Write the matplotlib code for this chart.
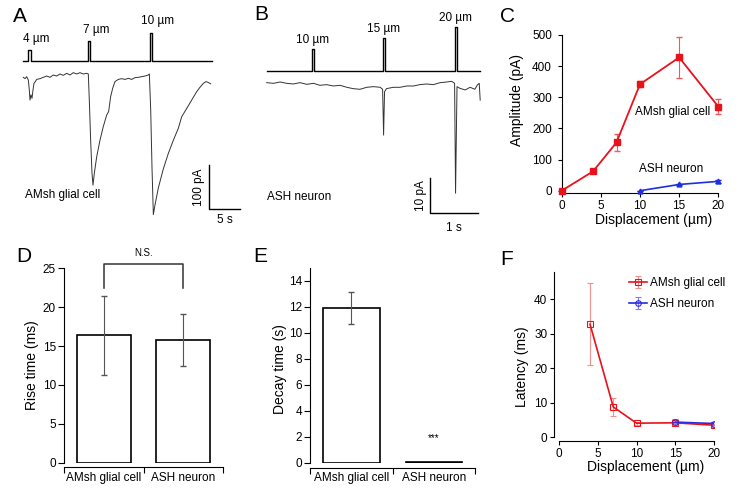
import matplotlib
matplotlib.use('Agg')
import matplotlib.pyplot as plt

plt.rcParams['font.family'] = ['Liberation Sans', 'DejaVu Sans']
plt.rcParams['axes.linewidth'] = 0.8

W, H = 747, 492

# ---------------- Panel A data (AMsh glial cell trace) ----------------
a_pulse_on = [0.82, 10.59, 20.58]      # s
a_pulse_w = [0.38, 0.33, 0.32]         # s
a_pulse_amp = [4, 7, 10]               # um
a_pulse_lbl = ['4 µm', '7 µm', '10 µm']
a_stim_end = 30.7
a_t = [0.0, 0.28, 0.55, 0.82, 0.98, 1.09, 1.25, 1.42, 1.58, 1.74, 1.96, 2.18, 2.72, 3.26,
       3.81, 4.35, 4.89, 5.43, 5.98, 6.52, 7.06, 7.61, 8.15, 8.69, 9.23, 9.78, 10.32, 10.59,
       10.75, 10.97, 11.19, 11.35, 11.57, 11.95, 12.49, 13.03, 13.58, 13.90, 14.23, 14.56,
       14.93, 15.48, 16.02, 16.56, 17.11, 17.65, 18.19, 18.73, 19.28, 19.82, 20.36, 20.53,
       20.75, 20.96, 21.18, 21.45, 22.0, 22.81, 23.62, 24.44, 25.25, 25.79, 26.61, 27.42,
       28.23, 28.77, 29.32, 29.75, 30.13, 30.51]
a_i = [-5.3, -8.3, -3.8, -11.4, -34, -57, -45, -53, -34, -19, -15, -10, -8.3, -5.3,
       -2.3, -5.3, 0, -2.3, 2.3, -0.8, 3.8, 0, 5.3, 2.3, 5.3, 2.3, 3.8, 2.3,
       -57, -148, -223, -250, -223, -186, -148, -117, -91, -83, -49, -30,
       -15, -10, -8.3, -10, -7.6, -10, -6, -5.3, -3.8, -2.3, 0, 2.3,
       -80, -210, -317, -295, -256, -213, -178, -148, -121, -95, -76, -57,
       -38, -28, -19, -15, -17, -20]

# ---------------- Panel B data (ASH neuron trace) ----------------
b_pulse_on = [0.93, 2.40, 3.89]
b_pulse_w = [0.042, 0.048, 0.055]
b_pulse_amp = [10, 15, 20]
b_pulse_lbl = ['10 µm', '15 µm', '20 µm']
b_stim_end = 4.42
b_t = [0.0, 0.14, 0.28, 0.41, 0.55, 0.69, 0.83, 0.97, 1.10, 1.24, 1.38, 1.52, 1.66, 1.79,
       1.93, 2.07, 2.21, 2.35, 2.40, 2.42, 2.44, 2.48, 2.62, 2.76, 2.90, 3.04, 3.17, 3.31,
       3.45, 3.59, 3.73, 3.83, 3.89, 3.91, 3.94, 4.0, 4.11, 4.21, 4.31, 4.36, 4.40, 4.42]
b_i = [0.19, 0, 0.38, 0, -0.19, 0.19, -0.29, 0, -0.57, -0.38, -0.76, -0.57, -1.14, -1.52,
       -1.71, -1.14, -0.95, -1.14, -1.71, -14.8, -2.4, -1.52, -1.14, -1.14, -0.76, -0.76, -0.38, -0.19,
       -0.38, 0.19, 0.38, 0.57, 0, -31.4, -0.95, -1.43, -1.9, -1.14, -1.7, -0.48, 0, -4.8]

# ---------------- Panel C data ----------------
c_x_glia = [0, 4, 7, 10, 15, 20]
c_y_glia = [0, 62, 155, 342, 428, 270]
c_e_glia = [0, 6, 26, 9, 65, 25]
c_x_ash = [10, 15, 20]
c_y_ash = [0, 20, 30]
c_e_ash = [0, 3, 4]

# ---------------- Panel D / E data ----------------
groups = ['AMsh glial cell', 'ASH neuron']
rise = [16.4, 15.8]
rise_err = [5.1, 3.3]
decay = [11.9, 0.08]
decay_err = [1.2, 0.0]

# ---------------- Panel F data ----------------
f_x_glia = [4, 7, 10, 15, 20]
f_y_glia = [32.8, 8.8, 4.1, 4.2, 3.5]
f_e_glia = [11.9, 2.7, 0.4, 0.7, 0.4]
f_x_ash = [15, 20]
f_y_ash = [4.4, 4.0]
f_e_ash = [0.9, 0.5]

fig = plt.figure(figsize=(W / 100, H / 100), dpi=100)


def add_ax(left, top, right, bottom):
    return fig.add_axes([left / W, 1 - bottom / H, (right - left) / W, (bottom - top) / H])


def ftext(x, y, s, **kw):
    fig.text(x / W, 1 - y / H, s, **kw)


def stim_trace(end, ons, widths, amps):
    ts, vs = [0.0], [0.0]
    for on, w, a in zip(ons, widths, amps):
        ts += [on, on, on + w, on + w]
        vs += [0, a, a, 0]
    ts.append(end)
    vs.append(0)
    return ts, vs


FS = 8.5

# ================= Panel A =================
axA_s = add_ax(15, 18, 250, 68)
axA_s.set_xlim(-1.35, 36.92)
axA_s.set_ylim(-2.27, 15.05)
axA_s.axis('off')
ts, vs = stim_trace(a_stim_end, a_pulse_on, a_pulse_w, a_pulse_amp)
axA_s.plot(ts, vs, color='black', lw=1.0)
for on, w, a, lb in zip(a_pulse_on, a_pulse_w, a_pulse_amp, a_pulse_lbl):
    axA_s.annotate(lb, (on + w / 2, a), xytext=(5, 8), textcoords='offset points',
                   ha='center', va='center', fontsize=FS, annotation_clip=False)

axA = add_ax(15, 68, 250, 230)
axA.set_xlim(-1.35, 36.92)
axA.set_ylim(-352, 15.9)
axA.axis('off')
axA.plot(a_t, a_i, color='#333333', lw=0.7)
# scale bar: 100 pA, 5 s
axA.plot([30.29, 30.29, 35.29], [-205, -305, -305], color='black', lw=1.0, clip_on=False)
axA.text(28.6, -255, '100 pA', rotation=90, ha='center', va='center', fontsize=FS)
axA.text(32.79, -316, '5 s', ha='center', va='top', fontsize=FS)
axA.text(0.28, -272.7, 'AMsh glial cell', ha='left', va='center', fontsize=FS)

# ================= Panel B =================
axB_s = add_ax(255, 8, 490, 76)
axB_s.set_xlim(-0.242, 4.623)
axB_s.set_ylim(-2.25, 28.4)
axB_s.axis('off')
ts, vs = stim_trace(b_stim_end, b_pulse_on, b_pulse_w, b_pulse_amp)
axB_s.plot(ts, vs, color='black', lw=1.0)
for on, w, a, lb in zip(b_pulse_on, b_pulse_w, b_pulse_amp, b_pulse_lbl):
    axB_s.annotate(lb, (on + w / 2, a), xytext=(0, 6.5), textcoords='offset points',
                   ha='center', va='center', fontsize=FS, annotation_clip=False)

axB = add_ax(255, 76, 490, 230)
axB.set_xlim(-0.242, 4.623)
axB.set_ylim(-41.9, 2.09)
axB.axis('off')
axB.plot(b_t, b_i, color='#333333', lw=0.7)
axB.plot([3.381, 3.381, 4.381], [-27.1, -37.1, -37.1], color='black', lw=1.0, clip_on=False)
axB.text(3.2, -32.1, '10 pA', rotation=90, ha='center', va='center', fontsize=FS)
axB.text(3.88, -39.6, '1 s', ha='center', va='top', fontsize=FS)
axB.text(0.0, -32.6, 'ASH neuron', ha='left', va='center', fontsize=FS)

# ================= Panel C =================
axC = add_ax(561.7, 35, 718.3, 193.3)
axC.set_xlim(0, 20)
axC.set_ylim(-8.35, 500)
for s in ['top', 'right']:
    axC.spines[s].set_visible(False)
axC.errorbar(c_x_glia, c_y_glia, yerr=c_e_glia, color='#e8121b', lw=1.3, marker='s',
             ms=5, capsize=2.5, elinewidth=0.8, ecolor='#ee5a5a', clip_on=False, zorder=3)
axC.errorbar(c_x_ash, c_y_ash, yerr=c_e_ash, color='#1f2fe0', lw=1.2, marker='^',
             ms=3.5, capsize=2, elinewidth=0.8, clip_on=False, zorder=3)
axC.set_xticks([0, 5, 10, 15, 20])
axC.set_yticks([0, 100, 200, 300, 400, 500])
axC.tick_params(axis='x', direction='out', length=3, width=0.8, labelsize=FS, pad=2)
axC.tick_params(axis='y', direction='out', length=3, width=0.8, labelsize=FS, pad=4)
axC.text(9.36, 253.7, 'AMsh glial cell', ha='left', va='center', fontsize=FS)
axC.text(9.91, 68.7, 'ASH neuron', ha='left', va='center', fontsize=FS)
axC.set_ylabel('Amplitude (pA)', fontsize=10, va='center', ha='center')
axC.yaxis.set_label_coords(516.7 / W, 1 - 100.3 / H, transform=fig.transFigure)
axC.set_xlabel('Displacement (µm)', fontsize=10, va='center', ha='center')
axC.xaxis.set_label_coords(653.3 / W, 1 - 220 / H, transform=fig.transFigure)

# ================= Panel D =================
axD = add_ax(64.3, 268.3, 222.7, 462.7)
axD.set_xlim(0.5, 2.5)
axD.set_ylim(0, 25)
for s in ['top', 'right']:
    axD.spines[s].set_visible(False)
axD.spines['bottom'].set_position(('outward', 3))
axD.bar([1, 2], rise, width=0.686, color='white', edgecolor='black', lw=1.2, zorder=2)
axD.errorbar([1, 2], rise, yerr=rise_err, fmt='none', ecolor='#555555', elinewidth=0.8,
             capsize=2.5, zorder=3)
axD.set_xticks([0.5, 1.5, 2.5])
axD.set_xticklabels([])
axD.set_xticks([1, 2], minor=True)
axD.set_xticklabels(groups, minor=True)
axD.tick_params(axis='x', which='minor', length=0, labelsize=FS, pad=4)
axD.tick_params(axis='x', which='major', direction='out', length=4, width=0.8)
axD.set_yticks([0, 5, 10, 15, 20, 25])
axD.tick_params(axis='y', direction='out', length=4, width=0.8, labelsize=FS, pad=2)
axD.plot([1, 1, 2, 2], [22.5, 25.6, 25.6, 22.5], color='#333333', lw=1.1, clip_on=False)
axD.text(1.5, 26.3, 'N.S.', ha='center', va='bottom', fontsize=7)
axD.set_ylabel('Rise time (ms)', fontsize=10, va='center', ha='center')
axD.yaxis.set_label_coords(31.7 / W, 1 - 365.3 / H, transform=fig.transFigure)

# ================= Panel E =================
axE = add_ax(310.3, 267.7, 475, 462.7)
axE.set_xlim(0.5, 2.5)
axE.set_ylim(0, 15)
for s in ['top', 'right']:
    axE.spines[s].set_visible(False)
axE.spines['bottom'].set_position(('outward', 4))
axE.bar([1], decay[:1], width=0.684, color='white', edgecolor='black', lw=1.2, zorder=2)
axE.bar([2], decay[1:], width=0.684, color='black', edgecolor='black', lw=1.2, zorder=2)
axE.errorbar([1], decay[:1], yerr=decay_err[:1], fmt='none', ecolor='#555555',
             elinewidth=0.8, capsize=2.5, zorder=3)
axE.set_xticks([0.5, 1.5, 2.5])
axE.set_xticklabels([])
axE.set_xticks([1, 2], minor=True)
axE.set_xticklabels(groups, minor=True)
axE.tick_params(axis='x', which='minor', length=0, labelsize=FS, pad=3)
axE.tick_params(axis='x', which='major', direction='out', length=4, width=0.8)
axE.set_yticks([0, 2, 4, 6, 8, 10, 12, 14])
axE.tick_params(axis='y', direction='out', length=4, width=0.8, labelsize=FS, pad=2)
axE.text(2, 1.9, '***', ha='center', va='center', fontsize=7)
axE.set_ylabel('Decay time (s)', fontsize=10, va='center', ha='center')
axE.yaxis.set_label_coords(280 / W, 1 - 369.2 / H, transform=fig.transFigure)

# ================= Panel F =================
axF = add_ax(559, 271.7, 714, 437.3)
axF.set_xlim(0, 20)
axF.set_ylim(0, 48)
for s in ['top', 'right']:
    axF.spines[s].set_visible(False)
axF.spines['left'].set_position(('outward', 3.4))
axF.spines['bottom'].set_position(('outward', 2.7))
axF.errorbar(f_x_glia, f_y_glia, yerr=f_e_glia, color='#e8121b', lw=1.2, marker='s', ms=4,
             mfc='none', mew=0.8, capsize=2.5, elinewidth=0.8, ecolor='#f09090',
             label='AMsh glial cell', zorder=3)
axF.errorbar(f_x_ash, f_y_ash, yerr=f_e_ash, color='#2a2ae0', lw=1.2, marker='o', ms=4,
             mfc='none', mew=0.8, capsize=2.5, elinewidth=0.8, ecolor='#8080f0',
             label='ASH neuron', zorder=4)
axF.set_xticks([0, 5, 10, 15, 20])
axF.set_yticks([0, 10, 20, 30, 40])
axF.tick_params(direction='out', length=3, width=0.8, labelsize=FS, pad=2)
leg = axF.legend(loc='upper left', bbox_to_anchor=(629 / W, 1 - 277 / H),
                 bbox_transform=fig.transFigure, frameon=False, fontsize=FS,
                 handlelength=1.5, handletextpad=0.3, labelspacing=0.8, borderpad=0,
                 borderaxespad=0)
axF.set_ylabel('Latency (ms)', fontsize=10, va='center', ha='center')
axF.yaxis.set_label_coords(522.3 / W, 1 - 366.7 / H, transform=fig.transFigure)
axF.set_xlabel('Displacement (µm)', fontsize=10, va='center', ha='center')
axF.xaxis.set_label_coords(645.3 / W, 1 - 466.7 / H, transform=fig.transFigure)

# ================= Panel letters =================
for lt, x, y in [('A', 13, 21.7), ('B', 254, 20.5), ('C', 500, 22), ('D', 16, 261.7),
                 ('E', 253, 262), ('F', 500, 265)]:
    ftext(x, y, lt, fontsize=15, ha='left', va='baseline')

fig.savefig('out.png', dpi=100)
